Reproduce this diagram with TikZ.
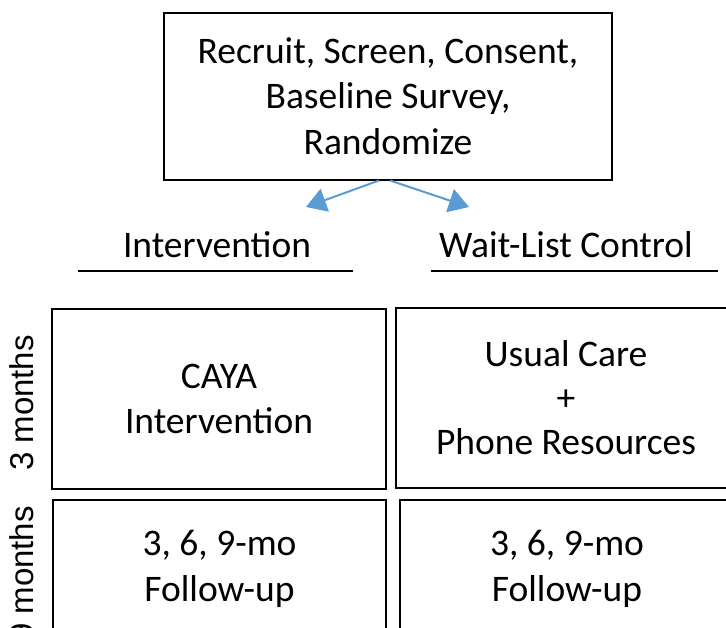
\documentclass[tikz,border=0pt]{standalone}
\usepackage{fontspec}
\setmainfont{Carlito}
\newfontfamily\arialf{Liberation Sans}
\usetikzlibrary{arrows.meta}
\definecolor{arrowblue}{HTML}{5B9BD5}
\begin{document}
\begin{tikzpicture}[x=1pt,y=-1pt,
  txt/.style={font=\fontsize{37.5}{45.5}\selectfont, align=center, inner sep=0pt},
  box/.style={txt, draw=black, line width=2pt},
  side/.style={font=\arialf\fontsize{33}{38}\selectfont, rotate=90, inner sep=0pt},
  split/.style={draw=arrowblue, line width=2pt, -{Triangle[length=20pt,width=24pt]}},
  rule/.style={draw=black, line width=1.4pt}]
\useasboundingbox (0,0) rectangle (726,627);
\clip (0,0) rectangle (726,627);
\node[box, minimum width=448pt, minimum height=167pt] (top) at (388,96)
  {Recruit, Screen, Consent,\\Baseline Survey,\\Randomize};
\coordinate (la) at (306,207);
\coordinate (ra) at (469,207);
\draw[split] ([xshift=-9pt]top.south) -- (la);
\draw[split] ([xshift=2pt]top.south) -- (ra);
\node[txt] (int) at (217,245) {Intervention};
\node[txt] (wlc) at (566,245) {Wait-List Control};
\coordinate (u1a) at (78,271);
\coordinate (u1b) at (353,271);
\coordinate (u2a) at (431,271);
\coordinate (u2b) at (718,271);
\draw[rule] (u1a) -- (u1b);
\draw[rule] (u2a) -- (u2b);
\node[box, minimum width=334pt, minimum height=180pt] (b1) at (219,399) {CAYA\\Intervention};
\node[box, minimum width=340pt, minimum height=180pt] (b2) at (566,398) {Usual Care\\[-2pt]+\\[-1pt]Phone Resources};
\node[box, minimum width=333pt, minimum height=138pt] (b3) at (219.5,569) {3, 6, 9-mo\\Follow-up};
\node[box, minimum width=334pt, minimum height=138pt] (b4) at (567,569) {3, 6, 9-mo\\Follow-up};
\node[side] (m3) at (22,403) {3 months};
\node[side] (m9) at (22,574) {9 months};
\end{tikzpicture}
\end{document}
